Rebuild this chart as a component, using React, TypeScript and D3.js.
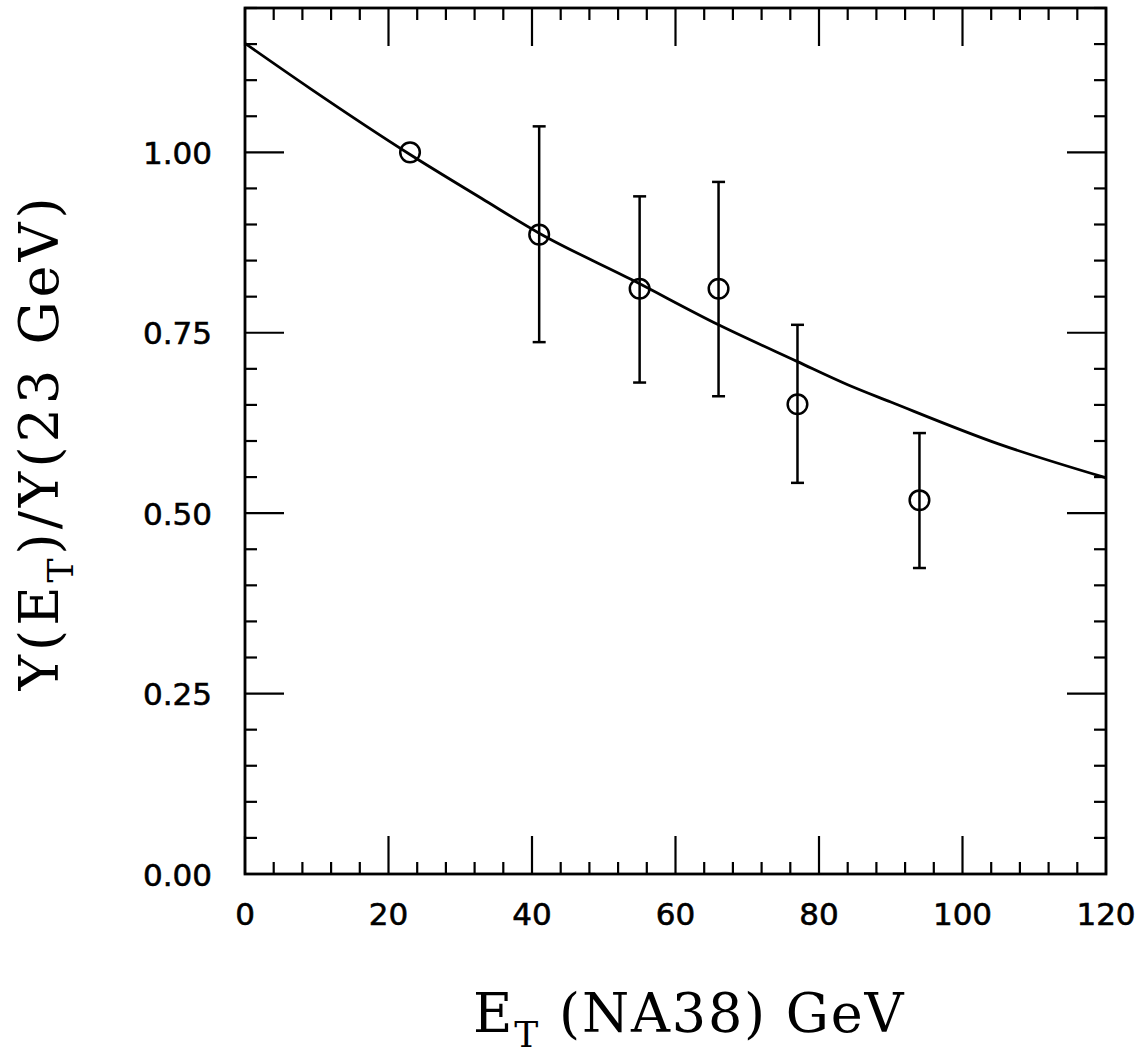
import React from "react";
import * as d3 from "d3";

// Data points
const pointX = [23, 41, 55, 66, 77, 94];
const pointY = [1.0, 0.886, 0.811, 0.811, 0.651, 0.518];
const errLow = [null, 0.737, 0.681, 0.662, 0.542, 0.424];
const errHigh = [null, 1.036, 0.939, 0.959, 0.761, 0.611];

// Fitted curve
const curveX = [0, 9, 23, 33, 41, 54, 66, 77, 84, 90, 105, 120];
const curveY = [1.151, 1.089, 0.997, 0.936, 0.888, 0.823, 0.761, 0.71, 0.678, 0.654, 0.596, 0.549];

const xTicks = [0, 20, 40, 60, 80, 100, 120];
const xTickLabels = ["0", "20", "40", "60", "80", "100", "120"];
const yTicks = [0, 0.25, 0.5, 0.75, 1.0];
const yTickLabels = ["0.00", "0.25", "0.50", "0.75", "1.00"];

const W = 1143;
const H = 1054;
const L = 245, R = 1106, T = 8, B = 874;

export default function App() {
  const x = d3.scaleLinear().domain([0, 120]).range([L, R]);
  const y = d3.scaleLinear().domain([0, 1.2]).range([B, T]);

  const xMinor = d3.range(0, 120.001, 4);
  const yMinor = d3.range(0, 1.2001, 0.05);
  const isMajorX = (v: number) => Math.abs(v / 20 - Math.round(v / 20)) < 1e-6;
  const isMajorY = (v: number) => Math.abs(v / 0.25 - Math.round(v / 0.25)) < 1e-6;

  const line = d3
    .line<number>()
    .x((_, i) => x(curveX[i]))
    .y((d) => y(d))
    .curve(d3.curveMonotoneX);

  const sw = 2.5;
  const tickFont = "'DejaVu Sans', sans-serif";
  const titleFont = "'DejaVu Serif', serif";

  return (
    <svg
      width={W}
      height={H}
      viewBox={`0 0 ${W} ${H}`}
      style={{ position: "absolute", left: 0, top: 0, background: "#fff" }}
    >
      <rect x={0} y={0} width={W} height={H} fill="#fff" />
      <defs>
        <clipPath id="plotclip">
          <rect x={L} y={T} width={R - L} height={B - T} />
        </clipPath>
      </defs>

      {/* x ticks bottom and top */}
      {xMinor.map((v, i) => {
        const len = isMajorX(v) ? 38 : 12;
        return (
          <g key={"xt" + i} stroke="#000" strokeWidth={2.2}>
            <line x1={x(v)} x2={x(v)} y1={B} y2={B - len} />
            <line x1={x(v)} x2={x(v)} y1={T} y2={T + len} />
          </g>
        );
      })}
      {/* y ticks left and right */}
      {yMinor.map((v, i) => {
        const len = isMajorY(v) ? 39 : 12;
        return (
          <g key={"yt" + i} stroke="#000" strokeWidth={2.2}>
            <line x1={L} x2={L + len} y1={y(v)} y2={y(v)} />
            <line x1={R} x2={R - len} y1={y(v)} y2={y(v)} />
          </g>
        );
      })}

      {/* frame */}
      <rect x={L} y={T} width={R - L} height={B - T} fill="none" stroke="#000" strokeWidth={2.8} />

      {/* curve */}
      <path d={line(curveY) || ""} fill="none" stroke="#000" strokeWidth={2.8} clipPath="url(#plotclip)" />

      {/* error bars */}
      {pointX.map((px, i) => {
        const lo = errLow[i];
        const hi = errHigh[i];
        if (lo == null || hi == null) return null;
        const cx = x(px);
        return (
          <g key={"e" + i} stroke="#000" strokeWidth={sw}>
            <line x1={cx} x2={cx} y1={y(lo)} y2={y(hi)} />
            <line x1={cx - 6.5} x2={cx + 6.5} y1={y(lo)} y2={y(lo)} />
            <line x1={cx - 6.5} x2={cx + 6.5} y1={y(hi)} y2={y(hi)} />
          </g>
        );
      })}

      {/* markers */}
      {pointX.map((px, i) => (
        <circle key={"p" + i} cx={x(px)} cy={y(pointY[i])} r={9.8} fill="none" stroke="#000" strokeWidth={2.5} />
      ))}

      {/* x tick labels */}
      {xTicks.map((v, i) => (
        <text
          key={"xl" + i}
          x={x(v)}
          y={925}
          textAnchor="middle"
          fontFamily={tickFont}
          fontSize={31}
          fill="#000"
          stroke="#000"
          strokeWidth={0.6}
        >
          {xTickLabels[i]}
        </text>
      ))}
      {/* y tick labels */}
      {yTicks.map((v, i) => (
        <text
          key={"yl" + i}
          x={212}
          y={y(v) + 11.5}
          textAnchor="end"
          fontFamily={tickFont}
          fontSize={31}
          fill="#000"
          stroke="#000"
          strokeWidth={0.6}
        >
          {yTickLabels[i]}
        </text>
      ))}

      {/* x title */}
      <text x={473} y={1032} fontFamily={titleFont} fontSize={54} fill="#000" letterSpacing={1.8}>
        E<tspan fontSize={36} dy={15}>T</tspan>
        <tspan dy={-15}> (NA38) GeV</tspan>
      </text>

      {/* y title */}
      <text
        transform={`translate(58, ${442}) rotate(-90)`}
        textAnchor="middle"
        fontFamily={titleFont}
        fontSize={54}
        fill="#000"
        letterSpacing={4}
      >
        Y(E<tspan fontSize={36} dy={15}>T</tspan>
        <tspan dy={-15}>)/Y(23 GeV)</tspan>
      </text>
    </svg>
  );
}
